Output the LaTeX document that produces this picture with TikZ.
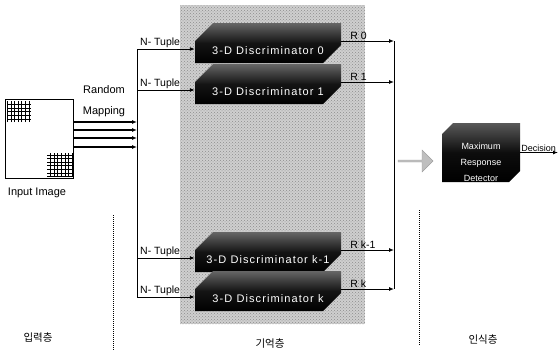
\documentclass[tikz,border=0pt]{standalone}
\usepackage{fontspec}
\setmainfont{Liberation Sans}
\newfontfamily\krfont{Noto Sans CJK KR}
\usetikzlibrary{patterns,shapes.misc,shapes.arrows,arrows.meta}

\newcommand{\disctext}{\fontsize{11}{12}\selectfont\addfontfeature{LetterSpace=10}}

\begin{document}
\begin{tikzpicture}[x=1pt,y=-1pt,font=\fontsize{11}{13}\selectfont,
    disc/.style={chamfered rectangle,chamfered rectangle corners={north west,south east},
      chamfered rectangle sep=9pt,inner sep=0pt,minimum width=146pt,minimum height=34pt,
      top color=black!60,bottom color=black,middle color=black!92,text=white,font=\disctext,
      text height=22pt,text depth=0pt},
    tuple/.style={anchor=south west,inner sep=1pt,font=\fontsize{10.5}{12}\selectfont},
    feed/.style={draw,line width=.9pt,-{Latex[length=5pt,width=4pt]}},
    layer/.style={font=\krfont\fontsize{10.5}{12}\selectfont},
    divider/.style={line width=1pt,densely dotted}]
  \useasboundingbox (0,0) rectangle (558,351);

  % memory layer
  \path[fill=gray!38] (180,5) rectangle (365,324);
  \path[pattern=crosshatch dots,pattern color=gray!90] (180,5) rectangle (365,324);

  % input image
  \node[draw,thin,minimum width=68pt,minimum height=79pt,inner sep=0pt] (img) at (39,138.5) {};
  \path[draw,step=3.6pt] (7,101) grid (31,122);
  \path[draw,step=3.6pt] (47,153) grid (72,177);
  \node (inlbl) at (37,193) {Input Image};
  \node (rnd) at (104,90) {Random};
  \node (map) at (104,112) {Mapping};

  \coordinate (busx) at (137,0);
  \coordinate (outx) at (394,0);
  \coordinate (decx) at (558,0);

  \node[disc] (d0) at (268,43) {3-D Discriminator 0};
  \node[disc] (d1) at (268,84) {3-D Discriminator 1};
  \node[disc] (dk1) at (268,252) {3-D Discriminator k-1};
  \node[disc] (dk) at (268,291) {3-D Discriminator k};

  % random mapping
  \foreach \yy in {122,130,138,147}
    \draw[feed,line width=2.4pt] (img.east |- 0,\yy) -- (busx |- 0,\yy);

  % n-tuples in, responses out
  \foreach \d/\t/\r in {d0/0/0,d1/1/1,dk1/k1/{k-1},dk/k/k}{
    \coordinate (n\t) at ([yshift=-6pt]\d.west);
    \coordinate (r\t) at ([yshift=2pt]\d.east);
    \draw[feed] (n\t -| busx) -- (n\t);
    \node[tuple] (tl\t) at ([xshift=2pt]n\t -| busx) {N- Tuple};
    \draw[feed] (r\t) -- (r\t -| outx);
    \node[tuple] (rl\t) at ([xshift=8pt]r\t) {R \r};
  }
  \draw[line width=.8pt] (busx |- 0,50) -- (nk -| busx);
  \draw[line width=.8pt] (r0 -| outx) -- (rk -| outx);

  \node[single arrow,minimum height=35pt,minimum width=22pt,single arrow head extend=2pt,
    inner sep=0pt,fill=gray!50,draw=gray!75] (flow) at (415,161) {};

  % recognition layer
  \path[top color=black!65,bottom color=black,middle color=black!95]
    (442,134) -- (453,123) -- (520,123) -- (520,171) -- (509,182) -- (442,182) -- cycle;
  \node[text=white,align=center,minimum width=78pt,inner sep=0pt,
    font=\fontsize{9}{16}\selectfont] (det) at (481,152.5)
    {\mbox{}\\[11pt]Maximum\\Response\\Detector};
  \draw[feed] (det.east) -- (det.east -| decx);
  \node[anchor=south west,inner sep=1pt,font=\fontsize{9}{11}\selectfont] (dec) at (det.east) {Decision};

  \draw[divider] (113,215) -- (113,351);
  \draw[divider] (419,210) -- (419,345);
  \node[layer] (l1) at (38,338) {입력층};
  \node[layer] (l2) at (270,344) {기억층};
  \node[layer] (l3) at (483,340) {인식층};
\end{tikzpicture}
\end{document}
